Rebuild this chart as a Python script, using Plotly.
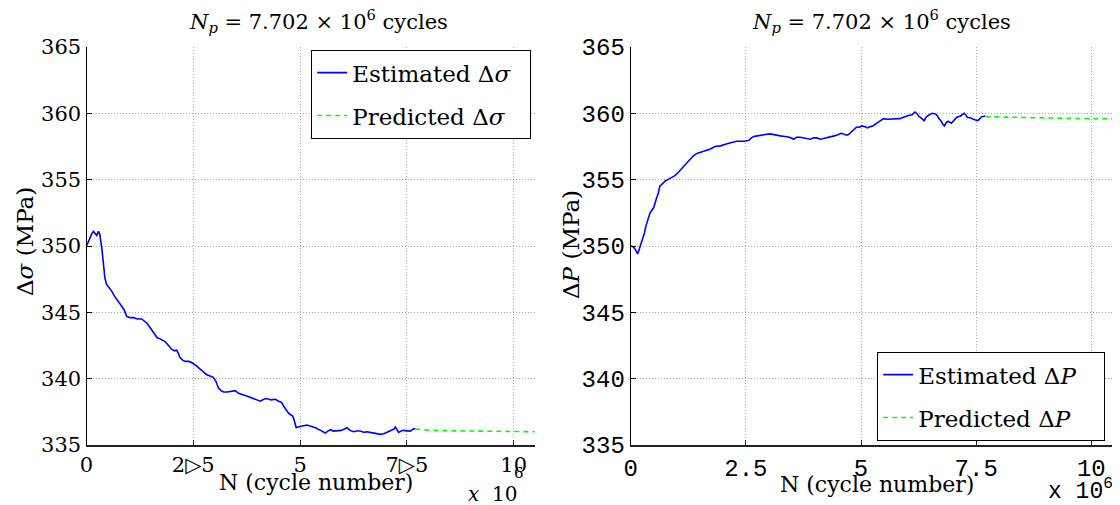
import plotly.graph_objects as go

# ---------------- data (N in millions of cycles) ----------------
sig_est_n = [0.00, 0.06, 0.12, 0.16, 0.20, 0.24, 0.28, 0.31, 0.36, 0.40, 0.43, 0.47, 0.52, 0.59, 0.64,
             0.70, 0.76, 0.82, 0.88, 0.94, 1.02, 1.10, 1.20, 1.29, 1.36, 1.41, 1.50, 1.58, 1.65, 1.72,
             1.84, 1.92, 2.00, 2.06, 2.11, 2.15, 2.19, 2.25, 2.31, 2.40, 2.47, 2.56, 2.66, 2.74, 2.82,
             2.90, 2.97, 3.03, 3.09, 3.15, 3.21, 3.30, 3.40, 3.48, 3.56, 3.68, 3.75, 3.83, 3.95, 4.07,
             4.15, 4.22, 4.32, 4.42, 4.50, 4.57, 4.62, 4.68, 4.73, 4.77, 4.82, 4.85, 4.88, 4.91, 4.95,
             5.00, 5.08, 5.16, 5.26, 5.36, 5.48, 5.59, 5.65, 5.71, 5.78, 5.86, 5.96, 6.04, 6.10, 6.17,
             6.25, 6.33, 6.41, 6.50, 6.57, 6.64, 6.76, 6.88, 6.96, 7.04, 7.12, 7.20, 7.23, 7.27, 7.31,
             7.40, 7.50, 7.58, 7.65, 7.70]
sig_est_v = [350.0, 350.5, 350.9, 351.1, 350.9, 350.8, 351.1, 350.9, 349.8, 348.3, 347.6, 347.1, 346.9, 346.6, 346.3,
             346.0, 345.8, 345.5, 345.2, 344.7, 344.6, 344.6, 344.5, 344.5, 344.35, 344.2, 343.8, 343.4, 343.1, 343.0,
             342.8, 342.5, 342.2, 342.1, 342.15, 341.9, 341.6, 341.4, 341.3, 341.3, 341.2, 341.0, 340.7, 340.5, 340.3,
             340.2, 340.1, 339.8, 339.3, 339.1, 339.0, 339.0, 339.05, 339.1, 338.9, 338.8, 338.7, 338.6, 338.45, 338.3,
             338.45, 338.5, 338.4, 338.45, 338.3, 338.2, 337.9, 337.6, 337.4, 337.3, 337.2, 337.0, 336.7, 336.3, 336.35,
             336.4, 336.45, 336.5, 336.4, 336.3, 336.1, 335.9, 336.05, 336.15, 336.05, 336.05, 336.1, 336.2, 336.3, 336.1,
             336.0, 336.05, 336.05, 335.95, 336.0, 335.95, 335.85, 335.8, 335.85, 335.95, 336.1, 336.2, 336.35, 336.1, 335.95,
             336.1, 336.1, 336.05, 336.2, 336.25]
sig_pred_n = [7.70, 8.0, 8.5, 9.0, 9.5, 10.0, 10.5]
sig_pred_v = [336.2, 336.12, 336.07, 336.04, 336.02, 336.0, 336.0]

p_est_n = [0.00, 0.05, 0.09, 0.13, 0.15, 0.18, 0.22, 0.27, 0.30, 0.33, 0.38, 0.42, 0.46, 0.50, 0.56,
           0.60, 0.63, 0.68, 0.75, 0.85, 0.96, 1.02, 1.07, 1.15, 1.22, 1.30, 1.36, 1.45, 1.54, 1.63,
           1.72, 1.83, 1.95, 2.09, 2.20, 2.30, 2.45, 2.56, 2.62, 2.67, 2.75, 2.81, 2.92, 3.03, 3.14,
           3.25, 3.35, 3.45, 3.54, 3.60, 3.68, 3.78, 3.90, 3.97, 4.04, 4.12, 4.19, 4.26, 4.33, 4.42,
           4.51, 4.57, 4.62, 4.68, 4.73, 4.79, 4.84, 4.90, 4.96, 5.02, 5.08, 5.14, 5.20, 5.26, 5.32,
           5.37, 5.43, 5.49, 5.57, 5.68, 5.76, 5.84, 5.92, 5.99, 6.05, 6.11, 6.17, 6.22, 6.26, 6.29,
           6.33, 6.37, 6.42, 6.48, 6.54, 6.62, 6.66, 6.69, 6.74, 6.78, 6.81, 6.85, 6.89, 6.96, 7.02,
           7.08, 7.16, 7.24, 7.28, 7.31, 7.38, 7.47, 7.52, 7.55, 7.62, 7.70]
p_est_v = [350.0, 349.95, 349.8, 349.5, 349.4, 349.7, 350.1, 350.6, 351.0, 351.5, 352.1, 352.5, 352.7, 352.9, 353.6,
           354.0, 354.5, 354.7, 354.9, 355.1, 355.3, 355.5, 355.7, 356.0, 356.25, 356.55, 356.8, 357.0, 357.1, 357.2,
           357.3, 357.5, 357.55, 357.7, 357.8, 357.9, 357.9, 357.95, 358.15, 358.25, 358.3, 358.35, 358.4, 358.45, 358.35,
           358.3, 358.25, 358.2, 358.05, 358.2, 358.2, 358.15, 358.05, 358.15, 358.15, 358.05, 358.1, 358.2, 358.25, 358.3,
           358.4, 358.5, 358.45, 358.35, 358.4, 358.6, 358.8, 358.95, 358.95, 359.05, 359.0, 358.9, 359.0, 359.05, 359.2,
           359.3, 359.45, 359.6, 359.55, 359.55, 359.6, 359.6, 359.7, 359.8, 359.85, 359.9, 360.1, 359.95, 359.75, 359.7,
           359.55, 359.45, 359.75, 359.9, 360.0, 359.95, 359.8, 359.6, 359.4, 359.15, 359.05, 359.3, 359.4, 359.25, 359.5,
           359.7, 359.8, 360.0, 359.85, 359.7, 359.65, 359.55, 359.45, 359.5, 359.75, 359.8]
p_pred_n = [7.70, 8.0, 8.5, 9.0, 9.5, 10.0, 10.5]
p_pred_v = [359.75, 359.72, 359.68, 359.65, 359.62, 359.6, 359.58]

x_tickvals = [0, 2.5e6, 5e6, 7.5e6, 10e6]
left_ticktext = ["0", "2\u25B75", "5", "7\u25B75", "10"]
right_ticktext = ["0", "2.5", "5", "7.5", "10"]
y_tickvals = [335, 340, 345, 350, 355, 360, 365]

title_text = "<i>N</i><sub><i>p</i></sub> = 7.702 \u00d7 10<sup>6</sup> cycles"

SERIF = "DejaVu Serif"
MONO = "Liberation Mono"
W, H = 1120, 505
OFF = 8  # page body margin


def fx(px):
    return (px - OFF) / W


def fy(py):
    return 1 - (py - OFF) / H


def scale(ns):
    return [n * 1e6 for n in ns]


fig = go.Figure()
fig.add_trace(go.Scatter(x=scale(sig_est_n), y=sig_est_v, mode="lines",
                         line=dict(color="#0000ff", width=1.6),
                         name="Estimated \u0394<i>\u03c3</i>\u00a0\u00a0", xaxis="x", yaxis="y",
                         legend="legend", legendgroup="a"))
fig.add_trace(go.Scatter(x=scale(sig_pred_n), y=sig_pred_v, mode="lines",
                         line=dict(color="#00ff00", width=1.6, dash="5px,4px"),
                         name="Predicted \u0394<i>\u03c3</i>", xaxis="x", yaxis="y",
                         legend="legend", legendgroup="b"))
fig.add_trace(go.Scatter(x=scale(p_est_n), y=p_est_v, mode="lines",
                         line=dict(color="#0000ff", width=1.6),
                         name="Estimated \u0394<i>P</i>\u00a0\u00a0\u00a0", xaxis="x2", yaxis="y2",
                         legend="legend2", legendgroup="c"))
fig.add_trace(go.Scatter(x=scale(p_pred_n), y=p_pred_v, mode="lines",
                         line=dict(color="#00ff00", width=1.6, dash="5px,4px"),
                         name="Predicted \u0394<i>P</i>", xaxis="x2", yaxis="y2",
                         legend="legend2", legendgroup="d"))

ydom = [fy(445), fy(47)]

common_x = dict(range=[0, 10.5e6], tickvals=x_tickvals, showgrid=True, gridcolor="#a8a8a8",
                griddash="1px,2px", gridwidth=1, showline=True, linecolor="#222", linewidth=1.5,
                ticks="inside", ticklen=5, tickcolor="#222", zeroline=False, mirror=False,
                automargin=False)
common_y = dict(range=[335, 365], tickvals=y_tickvals, showgrid=True, gridcolor="#a8a8a8",
                griddash="1px,2px", gridwidth=1, showline=True, linecolor="#000", linewidth=1.2,
                ticks="inside", ticklen=5, tickcolor="#000", zeroline=False, mirror=False, domain=ydom,
                automargin=False)

legend_common = dict(bgcolor="white", bordercolor="black", borderwidth=1.2,
                     font=dict(family=SERIF, size=23, color="black"),
                     xanchor="left", yanchor="top", traceorder="grouped", tracegroupgap=10,
                     itemwidth=30)

fig.update_layout(
    width=W, height=H, margin=dict(l=0, r=0, t=0, b=0, autoexpand=False),
    plot_bgcolor="white", paper_bgcolor="white", showlegend=True,
    xaxis=dict(domain=[fx(86.5), fx(535)], anchor="y", ticktext=left_ticktext,
               tickfont=dict(family=SERIF, size=21, color="black"), **common_x),
    yaxis=dict(anchor="x", tickfont=dict(family=SERIF, size=21, color="black"), **common_y),
    xaxis2=dict(domain=[fx(630.7), fx(1113)], anchor="y2", ticktext=right_ticktext,
                tickfont=dict(family=MONO, size=24, color="black"),
                **{**common_x, "range": [0, 10.47e6]}),
    yaxis2=dict(anchor="x2", tickfont=dict(family=MONO, size=24, color="black"), **common_y),
    legend=dict(x=fx(311), y=fy(50), **legend_common),
    legend2=dict(x=fx(877), y=fy(352), **legend_common),
)

ann = []
# titles
for cx in (318, 881):
    ann.append(dict(text=title_text, x=fx(cx), y=fy(21), xref="paper", yref="paper",
                    showarrow=False, xanchor="center", yanchor="middle",
                    font=dict(family=SERIF, size=21, color="black")))
# x-axis titles
ann.append(dict(text="N (cycle number)", x=fx(316), y=fy(482), xref="paper", yref="paper",
                showarrow=False, xanchor="center", yanchor="middle",
                font=dict(family=SERIF, size=22, color="black")))
ann.append(dict(text="N (cycle number)", x=fx(877), y=fy(484), xref="paper", yref="paper",
                showarrow=False, xanchor="center", yanchor="middle",
                font=dict(family=SERIF, size=22, color="black")))
# y-axis titles
ann.append(dict(text="\u0394<i>\u03c3</i> (MPa)", x=fx(25), y=fy(242), xref="paper", yref="paper",
                showarrow=False, xanchor="center", yanchor="middle", textangle=-90,
                font=dict(family=SERIF, size=23, color="black")))
ann.append(dict(text="\u0394<i>P</i> (MPa)", x=fx(571), y=fy(245), xref="paper", yref="paper",
                showarrow=False, xanchor="center", yanchor="middle", textangle=-90,
                font=dict(family=SERIF, size=23, color="black")))
# multipliers
ann.append(dict(text="<i>x</i>  10", x=fx(492), y=fy(494), xref="paper", yref="paper",
                showarrow=False, xanchor="center", yanchor="middle",
                font=dict(family=SERIF, size=20, color="black")))
ann.append(dict(text="6", x=fx(519), y=fy(473), xref="paper", yref="paper",
                showarrow=False, xanchor="center", yanchor="middle",
                font=dict(family=SERIF, size=15, color="black")))
ann.append(dict(text="x 10<sup>6</sup>", x=fx(1080), y=fy(490), xref="paper", yref="paper",
                showarrow=False, xanchor="center", yanchor="middle",
                font=dict(family=MONO, size=23, color="black")))
fig.update_layout(annotations=ann)

fig.write_html("out.html")
